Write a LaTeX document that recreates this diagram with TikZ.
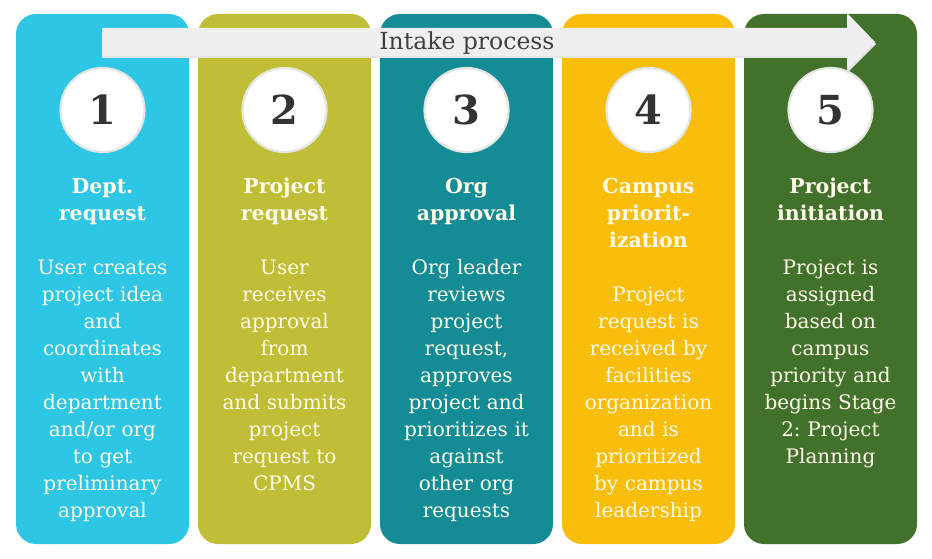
\documentclass[tikz,border=0pt]{standalone}
\usepackage{fontspec}
\setmainfont{DejaVu Serif}
\definecolor{c1}{HTML}{2DC6E5}
\definecolor{c2}{HTML}{C0BE37}
\definecolor{c3}{HTML}{148C96}
\definecolor{c4}{HTML}{F9BD0B}
\definecolor{c5}{HTML}{41712A}
\definecolor{cream}{HTML}{FFFBEA}
\definecolor{ringgray}{HTML}{E3E6E3}
\definecolor{numgray}{HTML}{333333}
\definecolor{arrowgray}{HTML}{EFEFEF}
\definecolor{labelgray}{HTML}{404040}
\begin{document}
\frenchspacing
\begin{tikzpicture}[x=1pt,y=-1pt,
  col/.style={rounded corners=20pt, minimum width=173pt, minimum height=530pt, inner sep=0pt, draw=none},
  numc/.style={circle, fill=white, draw=ringgray, line width=2.2pt, minimum size=84pt, inner sep=0pt,
    font=\fontsize{40}{40}\selectfont\bfseries, text=numgray},
  ttl/.style={anchor=north, inner sep=0pt, text width=172pt, align=center,
    font=\fontsize{20.5}{27}\selectfont\bfseries, text=cream},
  bodytxt/.style={anchor=north, inner sep=0pt, text width=172pt, align=center,
    font=\fontsize{20}{27}\selectfont, text=cream},
  arrowlabel/.style={inner sep=0pt, font=\fontsize{23.5}{28}\selectfont, text=labelgray}
]
\useasboundingbox (0,0) rectangle (932,559);
\fill[white] (0,0) rectangle (932,559);
% columns
\node[col, fill=c1] (col1) at (102.5,279) {};
\node[col, fill=c2] (col2) at (284.5,279) {};
\node[col, fill=c3] (col3) at (466.5,279) {};
\node[col, fill=c4] (col4) at (648.5,279) {};
\node[col, fill=c5] (col5) at (830.5,279) {};
% process arrow
\fill[black!10] (102,30) -- (847,30) -- (847,15) -- (876,44) -- (847,73) -- (847,58) -- (102,58) -- cycle;
\fill[arrowgray] (102,28) -- (847,28) -- (847,13) -- (875,42) -- (847,71) -- (847,56) -- (102,56) -- cycle;
\node[arrowlabel] (intake) at (467,43) {Intake process};
% number circles
\node[numc] (n1) at (col1.center |- 0,110) {1};
\node[numc] (n2) at (col2.center |- 0,110) {2};
\node[numc] (n3) at (col3.center |- 0,110) {3};
\node[numc] (n4) at (col4.center |- 0,110) {4};
\node[numc] (n5) at (col5.center |- 0,110) {5};
% titles
\node[ttl] (t1) at (col1.center |- 0,173) {\rule{0pt}{20pt}Dept.\\request};
\node[ttl] (t2) at (col2.center |- 0,173) {\rule{0pt}{20pt}Project\\request};
\node[ttl] (t3) at (col3.center |- 0,173) {\rule{0pt}{20pt}Org\\approval};
\node[ttl] (t4) at (col4.center |- 0,173) {\rule{0pt}{20pt}Campus\\priorit-\\ization};
\node[ttl] (t5) at (col5.center |- 0,173) {\rule{0pt}{20pt}Project\\initiation};
% bodies
\node[bodytxt] (b1) at (col1.center |- 0,254) {\rule{0pt}{20pt}User creates\\project idea\\and\\coordinates\\with\\department\\and/or org\\to get\\preliminary\\approval};
\node[bodytxt] (b2) at (col2.center |- 0,254) {\rule{0pt}{20pt}User\\receives\\approval\\from\\department\\and submits\\project\\request to\\CPMS};
\node[bodytxt] (b3) at (col3.center |- 0,254) {\rule{0pt}{20pt}Org leader\\reviews\\project\\request,\\approves\\project and\\prioritizes it\\against\\other org\\requests};
\node[bodytxt] (b4) at (col4.center |- 0,281) {\rule{0pt}{20pt}Project\\request is\\received by\\facilities\\organization\\and is\\prioritized\\by campus\\leadership};
\node[bodytxt] (b5) at (col5.center |- 0,254) {\rule{0pt}{20pt}Project is\\assigned\\based on\\campus\\priority and\\begins Stage\\2: Project\\Planning};
\end{tikzpicture}
\end{document}
